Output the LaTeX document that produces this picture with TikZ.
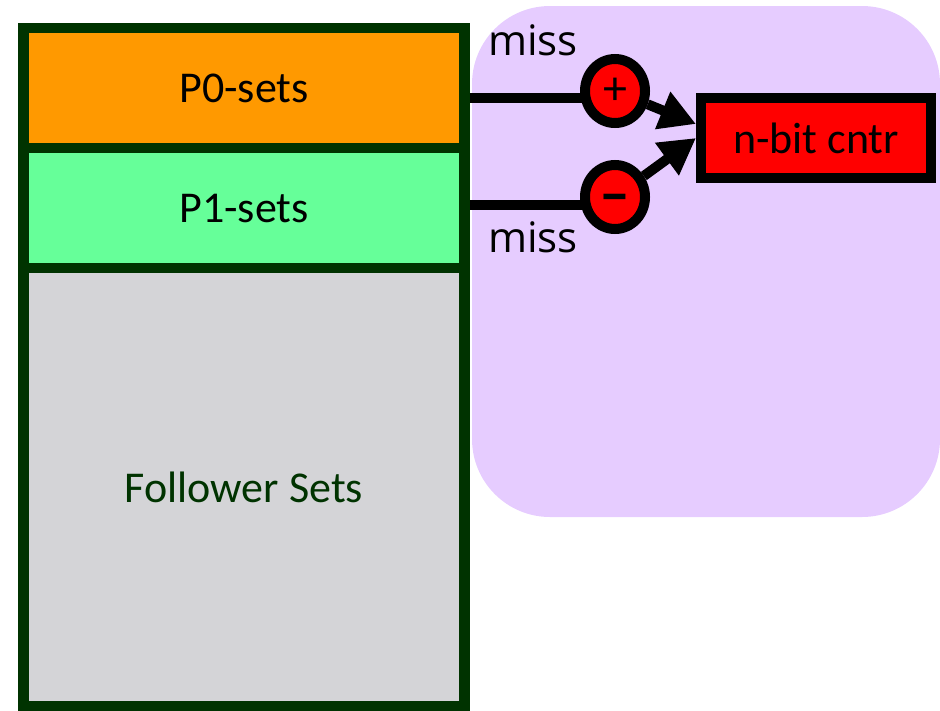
\documentclass[tikz,border=0pt]{standalone}
\usepackage{fontspec}
\setmainfont{Carlito}
\newfontfamily\missfont{Open Sans}
\usetikzlibrary{shapes.geometric,arrows.meta}
\definecolor{setline}{HTML}{003300}
\definecolor{pzero}{HTML}{FF9900}
\definecolor{pone}{HTML}{66FF99}
\definecolor{follow}{HTML}{D4D4D7}
\definecolor{lavender}{HTML}{E6CCFF}
\begin{document}
\begin{tikzpicture}[x=1pt,y=-1pt,
  setbox/.style={draw=setline, line width=10.5pt, minimum width=441pt, inner sep=0pt,
    font=\fontsize{44}{50}\selectfont},
  sign/.style={ellipse, draw=black, line width=10pt, fill=red, inner sep=0pt,
    minimum width=60pt, minimum height=64pt, font=\fontsize{48}{50}\selectfont},
  cntrbox/.style={draw=black, line width=10pt, fill=red, minimum width=230pt,
    minimum height=80pt, font=\fontsize{44}{50}\selectfont},
  wire/.style={line width=10pt, draw=black},
  arr/.style={line width=10pt, draw=black, -{Triangle[length=36pt,width=38pt]}},
  lbl/.style={font=\missfont\fontsize{42}{46}\selectfont, anchor=base}]
\useasboundingbox (0,0) rectangle (940,710);
% predictor region
\fill[lavender, rounded corners=78pt] (472,6) rectangle (940,517);
% cache set groups
\node[setbox, fill=pzero, minimum height=120pt] (p0) at (244,88) {P0-sets};
\node[setbox, fill=pone, minimum height=120pt] (p1) at (244,208) {P1-sets};
\node[setbox, fill=follow, minimum height=438pt, text=setline] (fol) at (244,487) {Follower Sets};
% miss wires
\coordinate (w0) at ([yshift=-10pt]p0.east);
\coordinate (w1) at ([yshift=3pt]p1.east);
\draw[wire] (w0) -- (w0 -| 600,0);
\draw[wire] (w1) -- (w1 -| 600,0);
% increment / decrement
\node[sign] (plus) at (615,91) {+};
\node[sign] (minus) at (615,197) {\smash{\raisebox{-17pt}{\fontsize{62}{62}\selectfont\bfseries –}}};
\node[cntrbox] (cntr) at (816,138) {n-bit cntr};
\draw[arr] (plus) -- ([yshift=14pt]cntr.west);
\draw[arr] (minus) -- (cntr.west);
% labels
\node[lbl] (miss0) at (533,55) {miss};
\node[lbl] (miss1) at (533,252) {miss};
\end{tikzpicture}
\end{document}
